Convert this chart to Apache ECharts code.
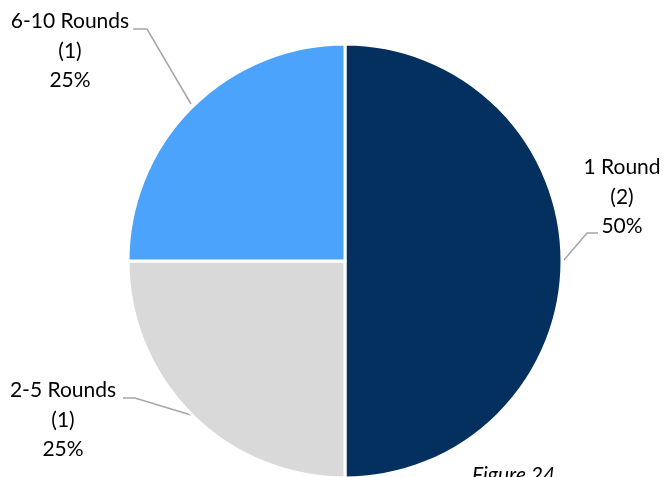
<!DOCTYPE html>
<html>
<head>
<meta charset="utf-8">
<script src="https://cdn.jsdelivr.net/npm/echarts@6/dist/echarts.min.js"></script>
<style>
html,body{margin:0;padding:0;background:#fff;}
#c{width:666px;height:477px;}
</style>
</head>
<body>
<div id="c"></div>
<script>
const categories = ['1 Round', '2-5 Rounds', '6-10 Rounds'];
const counts = [2, 1, 1];
const colors = ['#03305E', '#D9D9D9', '#4BA3FB'];

const labelPos = [
  {x: 622, y: 197, line: [[564, 260], [587, 233], [598, 233]]},
  {x: 63, y: 420, line: [[191, 415], [135, 398], [123, 398]]},
  {x: 70, y: 51, line: [[191, 104], [147, 29], [133, 29]]}
];

const chart = echarts.init(document.getElementById('c'), null, {renderer: 'canvas'});
chart.setOption({
  backgroundColor: '#fff',
  animation: false,
  graphic: [{
    type: 'text',
    left: 472,
    top: 465,
    style: {text: 'Figure 24', font: 'italic 21px Lato, sans-serif', fill: '#000'}
  }],
  series: [{
    type: 'pie',
    center: [345, 261],
    radius: [0, 217],
    startAngle: 90,
    clockwise: true,
    data: categories.map((c, i) => ({name: c, value: counts[i], itemStyle: {color: colors[i]}})),
    itemStyle: {borderColor: '#fff', borderWidth: 3},
    label: {
      show: true,
      formatter: '{b}\n({c})\n{d}%',
      fontFamily: 'Lato, sans-serif',
      fontSize: 21,
      lineHeight: 29.5,
      color: '#000',
      align: 'center',
      overflow: 'none',
      width: 200
    },
    labelLine: {show: true, lineStyle: {color: '#A6A6A6', width: 1.5}, smooth: false},
    labelLayout: function (p) {
      const lp = labelPos[p.dataIndex];
      return {x: lp.x, y: lp.y, align: 'center', verticalAlign: 'middle', labelLinePoints: lp.line};
    },
    emphasis: {disabled: true}
  }]
});
</script>
</body>
</html>
